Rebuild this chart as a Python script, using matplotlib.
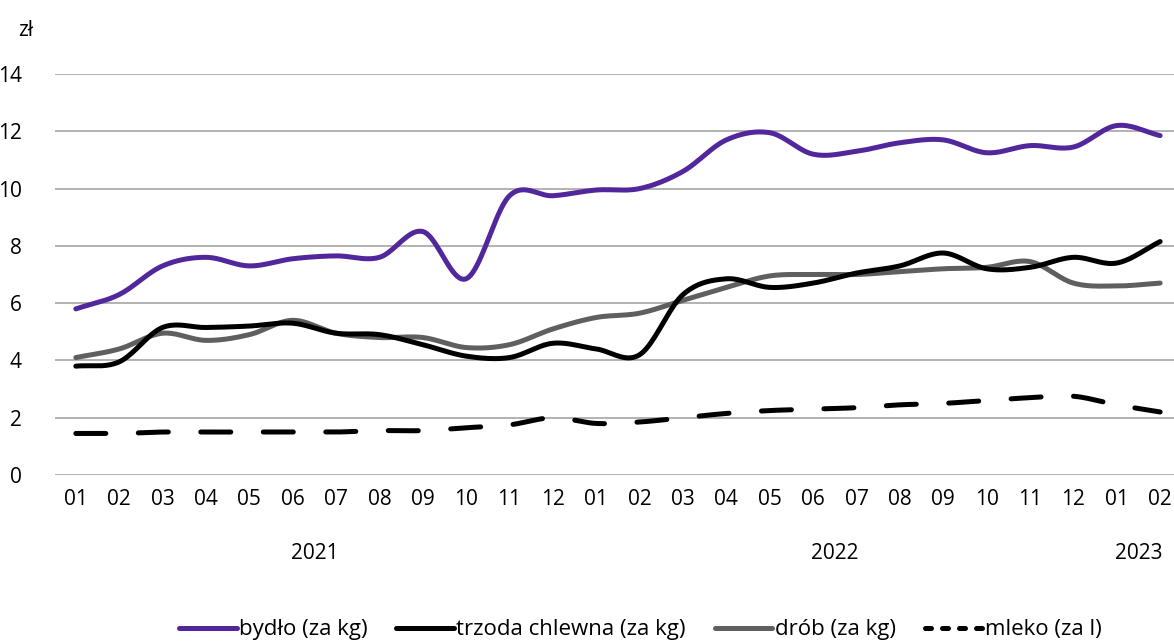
import numpy as np
import matplotlib
matplotlib.use("Agg")
import matplotlib.pyplot as plt
from matplotlib.lines import Line2D

plt.rcParams['font.family'] = ['Open Sans', 'DejaVu Sans']

# months 2021-01 .. 2023-02
months = ['01', '02', '03', '04', '05', '06', '07', '08', '09', '10', '11', '12',
          '01', '02', '03', '04', '05', '06', '07', '08', '09', '10', '11', '12',
          '01', '02']
years = ['2021', '2022', '2023']

bydlo = [5.8, 6.3, 7.3, 7.6, 7.3, 7.55, 7.65, 7.6, 8.5, 6.85, 9.75, 9.75,
         9.95, 10.0, 10.6, 11.7, 11.95, 11.2, 11.3, 11.6, 11.7, 11.25, 11.5, 11.45,
         12.2, 11.85]
trzoda = [3.8, 3.95, 5.15, 5.15, 5.2, 5.3, 4.95, 4.9, 4.55, 4.15, 4.1, 4.6,
          4.4, 4.2, 6.3, 6.85, 6.55, 6.7, 7.05, 7.3, 7.75, 7.2, 7.25, 7.6,
          7.4, 8.15]
drob = [4.1, 4.4, 4.95, 4.7, 4.9, 5.4, 4.95, 4.8, 4.8, 4.45, 4.55, 5.1,
        5.5, 5.65, 6.1, 6.55, 6.95, 7.0, 7.0, 7.1, 7.2, 7.25, 7.45, 6.7,
        6.6, 6.7]
mleko = [1.45, 1.45, 1.5, 1.5, 1.5, 1.5, 1.5, 1.55, 1.55, 1.65, 1.75, 2.0,
         1.8, 1.85, 2.0, 2.15, 2.25, 2.3, 2.35, 2.45, 2.5, 2.6, 2.7, 2.75,
         2.45, 2.2]


def smooth(y, n=20):
    # Catmull-Rom like the smoothed lines in a spreadsheet chart
    y = np.asarray(y, float)
    p = np.concatenate([[2 * y[0] - y[1]], y, [2 * y[-1] - y[-2]]])
    xs, ys = [], []
    t = np.linspace(0, 1, n, endpoint=False)
    for i in range(1, len(p) - 2):
        p0, p1, p2, p3 = p[i - 1], p[i], p[i + 1], p[i + 2]
        yy = 0.5 * ((2 * p1) + (-p0 + p2) * t + (2 * p0 - 5 * p1 + 4 * p2 - p3) * t ** 2
                    + (-p0 + 3 * p1 - 3 * p2 + p3) * t ** 3)
        xs.append(i - 1 + t)
        ys.append(yy)
    xs.append([len(y) - 1])
    ys.append([y[-1]])
    return np.concatenate(xs), np.concatenate(ys)


fig = plt.figure(figsize=(11.74, 6.43), dpi=100)
ax = fig.add_axes([55 / 1174, 1 - 475 / 643, 1 - 55 / 1174, (475 - 74) / 643])

lw = 3.6
purple = '#51279b'
gray = '#5f5f5f'
dash = (0, (6, 6.5))
fs = 15

x, y = smooth(bydlo)
ax.plot(x, y, color=purple, lw=lw, solid_capstyle='round', zorder=5, clip_on=False)
x, y = smooth(trzoda)
ax.plot(x, y, color='black', lw=lw, solid_capstyle='round', zorder=4, clip_on=False)
x, y = smooth(drob)
ax.plot(x, y, color=gray, lw=lw, solid_capstyle='round', zorder=3, clip_on=False)
x, y = smooth(mleko)
ax.plot(x, y, color='black', lw=lw, ls=dash, dash_capstyle='round', zorder=2, clip_on=False)

ax.set_xlim(-0.48, 25.32)
ax.set_ylim(0, 14)
ax.set_yticks(range(0, 15, 2))
ax.set_xticks(range(len(months)))
ax.set_xticklabels(months)
ax.grid(axis='y', color='#a6a6a6', lw=1.2)
ax.set_axisbelow(True)
for s in ax.spines.values():
    s.set_visible(False)
ax.tick_params(length=0, labelsize=fs, colors='black')
ax.tick_params(axis='y', pad=24)
ax.tick_params(axis='x', pad=10)

fig.text(33 / 1174, 1 - 30 / 643, 'zł', fontsize=fs, ha='right', va='center')
for lab, xp in zip(years, [5.5, 17.5, 24.5]):
    ax.text(xp, -2.75, lab, ha='center', va='center', fontsize=fs)

handles = [Line2D([], [], color=purple, lw=lw, solid_capstyle='round'),
           Line2D([], [], color='black', lw=lw, solid_capstyle='round'),
           Line2D([], [], color=gray, lw=lw, solid_capstyle='round'),
           Line2D([], [], color='black', lw=lw, ls=(0, (1.2, 2.2)), dash_capstyle='round')]
labels = ['bydło (za kg)', 'trzoda chlewna (za kg)', 'drób (za kg)', 'mleko (za l)']
fig.legend(handles, labels, loc='center', bbox_to_anchor=(640 / 1174, 1 - 630 / 643),
           ncol=4, frameon=False, fontsize=16, handlelength=2.6, handletextpad=0.1,
           columnspacing=1.3)

fig.savefig('out.png', dpi=100)
